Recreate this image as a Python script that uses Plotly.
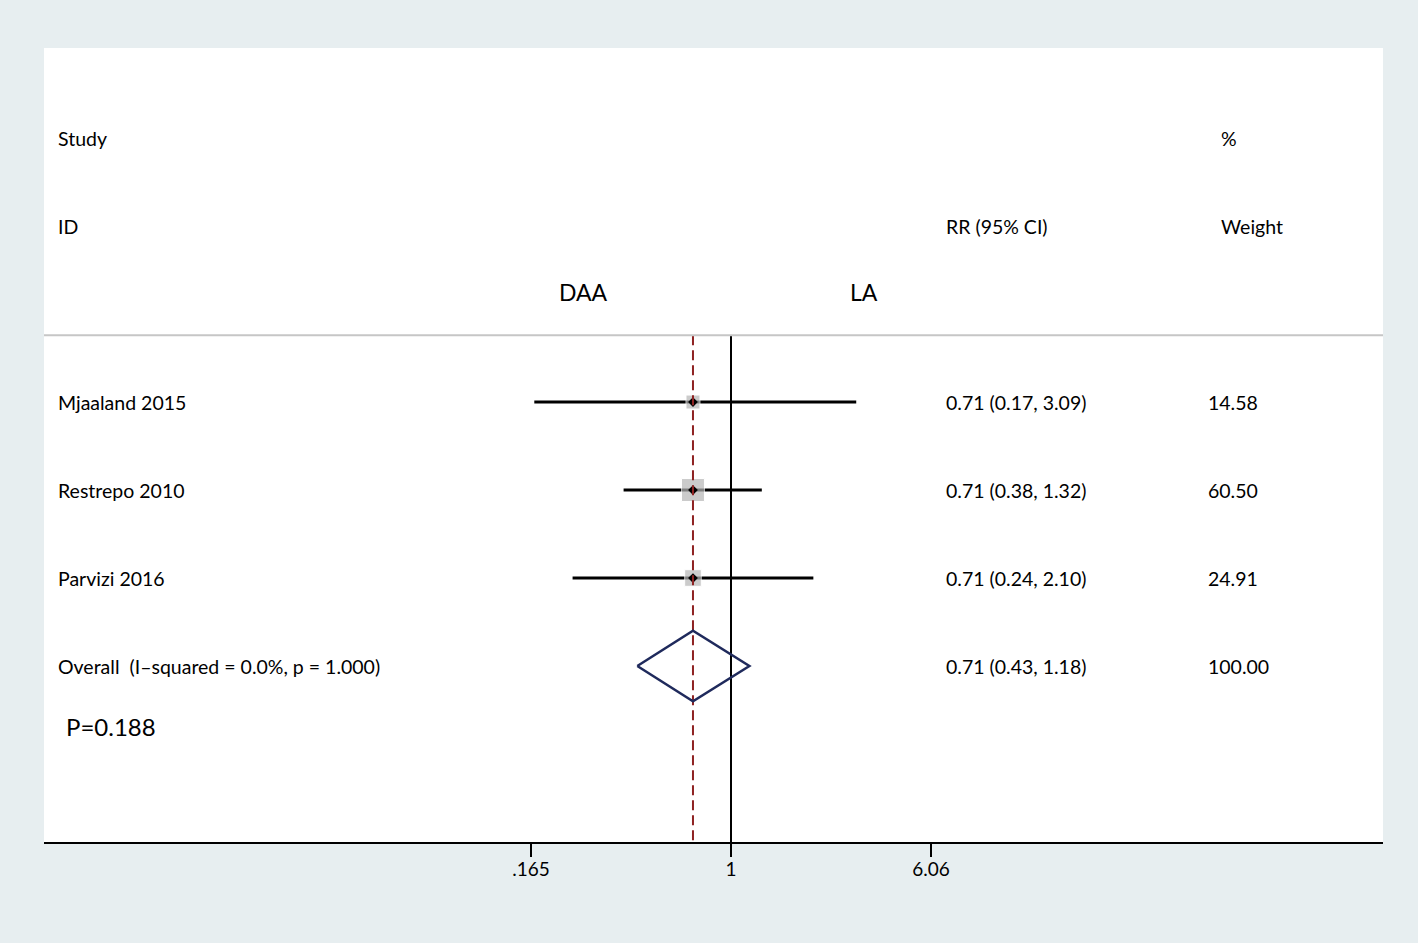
import plotly.graph_objects as go

studies = ['Mjaaland 2015', 'Restrepo 2010', 'Parvizi 2016']
rr = [0.71, 0.71, 0.71]
lo = [0.17, 0.38, 0.24]
hi = [3.09, 1.32, 2.10]
weights = [14.58, 60.50, 24.91]
rows = [4, 3, 2]

overall_label = 'Overall  (I\u2013squared = 0.0%, p = 1.000)'
overall_rr, overall_lo, overall_hi = 0.71, 0.43, 1.18
overall_row = 1

tick_vals = [0.165, 1, 6.06]
tick_text = ['.165', '1', '6.06']

FONT = 'Lato'
W, H = 1418, 943
L, R, T, B = 44, 35, 48, 101


def px(p):
    # left pixel -> paper x
    return (p - L) / (W - L - R)


fig = go.Figure()

# CI lines
xs, ys = [], []
for y, a, b in zip(rows, lo, hi):
    xs += [a, b, None]
    ys += [y, y, None]
fig.add_trace(go.Scatter(x=xs, y=ys, mode='lines',
                         line=dict(color='black', width=3), hoverinfo='skip'))

# weight boxes
fig.add_trace(go.Scatter(
    x=rr, y=rows, mode='markers',
    marker=dict(symbol='square', color='#b6b6b6',
                size=[5.3 + 2.27 * w ** 0.5 for w in weights]),
    hoverinfo='skip'))

# point estimates
fig.add_trace(go.Scatter(
    x=rr, y=rows, mode='markers',
    marker=dict(symbol='diamond', color='black', size=7.5),
    hoverinfo='skip'))

# null line and overall line
fig.add_trace(go.Scatter(x=[1, 1], y=[4.76, -1], mode='lines',
                         line=dict(color='black', width=2), hoverinfo='skip'))
fig.add_trace(go.Scatter(x=[overall_rr, overall_rr], y=[4.76, -1], mode='lines',
                         line=dict(color='#8e2222', width=2, dash='10px,5px'),
                         hoverinfo='skip'))

# overall diamond
h = 0.40
fig.add_trace(go.Scatter(
    x=[overall_lo, overall_rr, overall_hi, overall_rr, overall_lo],
    y=[overall_row, overall_row + h, overall_row, overall_row - h, overall_row],
    mode='lines', line=dict(color='#1f2a5c', width=2.5), hoverinfo='skip'))

fig.add_shape(type='line', xref='paper', yref='y', x0=0, x1=1, y0=4.76, y1=4.76,
              line=dict(color='#c6c6c6', width=2))

ann = []


def txt(x, y, s, size=19.5, anchor='left'):
    ann.append(dict(x=x, y=y, xref='paper', yref='y', text=s, showarrow=False,
                    xanchor=anchor, yanchor='middle',
                    font=dict(family=FONT, size=size, color='black')))


txt(px(56), 7, 'Study')
txt(px(56), 6, 'ID')
txt(px(1219), 7, '%')
txt(px(944), 6, 'RR (95% CI)')
txt(px(1219), 6, 'Weight')
txt(px(583), 5.25, 'DAA', size=23, anchor='center')
txt(px(864), 5.25, 'LA', size=23, anchor='center')

for s, y, r, a, b, w in zip(studies, rows, rr, lo, hi, weights):
    txt(px(56), y, s)
    txt(px(944), y, '%.2f (%.2f, %.2f)' % (r, a, b))
    txt(px(1206), y, '%.2f' % w)

txt(px(56), overall_row, overall_label)
txt(px(944), overall_row, '%.2f (%.2f, %.2f)' % (overall_rr, overall_lo, overall_hi))
txt(px(1206), overall_row, '100.00')
txt(px(64), 0.318, 'P=0.188', size=24)

fig.update_layout(
    width=W, height=H,
    margin=dict(l=L, r=R, t=T, b=B),
    paper_bgcolor='#e7eef0',
    plot_bgcolor='white',
    showlegend=False,
    annotations=ann,
    xaxis=dict(
        type='log',
        range=[(L - 731) / 255.6, (W - R - 731) / 255.6],
        tickvals=tick_vals, ticktext=tick_text,
        ticks='outside', ticklen=13, tickwidth=2, tickcolor='black',
        ticklabelstandoff=-4,
        showline=True, linecolor='black', linewidth=2,
        showgrid=False, zeroline=False,
        tickfont=dict(family=FONT, size=19, color='black'),
    ),
    yaxis=dict(range=[-1, 8.023], visible=False, showgrid=False, zeroline=False),
)

fig.write_html('out.html', config={'displayModeBar': False},
               post_script="document.body.style.margin='0';")
